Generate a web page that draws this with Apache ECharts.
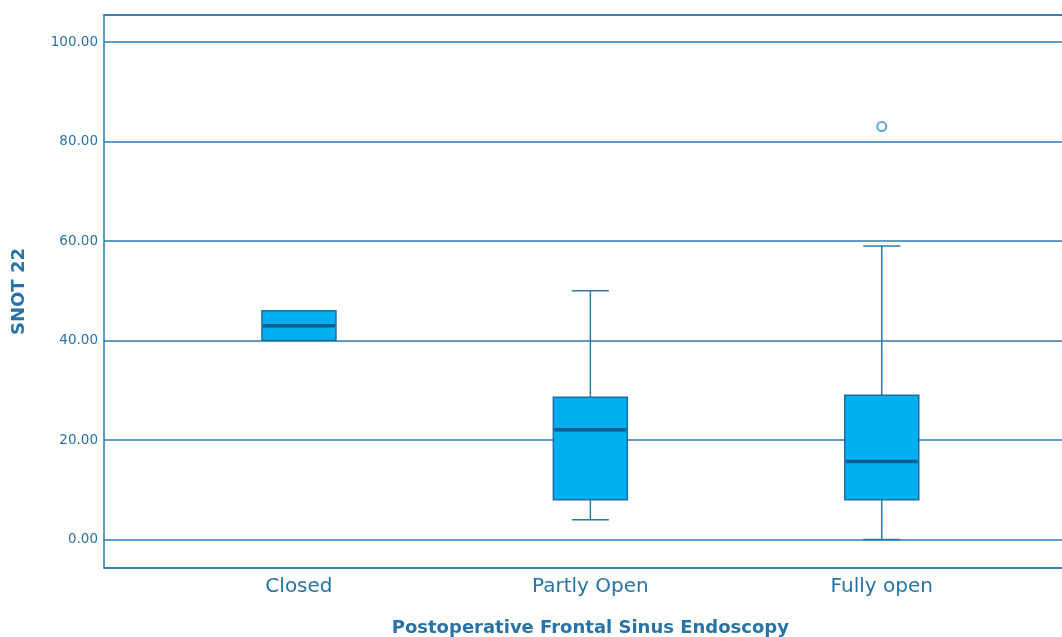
<!DOCTYPE html>
<html>
<head>
<meta charset="utf-8">
<title>SNOT 22 by Postoperative Frontal Sinus Endoscopy</title>
<script src="https://cdn.jsdelivr.net/npm/echarts@6/dist/echarts.min.js"></script>
<style>
  html, body { margin: 0; padding: 0; background: #ffffff; }
  #chart { width: 1062px; height: 637px; }
</style>
</head>
<body>
<div id="chart"></div>
<script>
// Groups along the horizontal axis
const categories = ['Closed', 'Partly Open', 'Fully open'];

// Five-number summaries per group: [min, Q1, median, Q3, max]
const whiskerMin = [40, 4, 0];
const quartile1  = [40, 8, 8];
const medians    = [43, 22.1, 15.7];
const quartile3  = [46, 28.6, 29];
const whiskerMax = [46, 50, 59];

// Outliers: [group index, value]
const outliers = [[2, 83]];

const AXIS_COLOR = '#2a7aae';
const TEXT_COLOR = '#2873a6';
const BOX_FILL = '#00b0f0';
const BOX_EDGE = '#1f6ea3';
const MEDIAN_COLOR = '#0c5d92';
const FONT = 'DejaVu Sans';

const boxData = categories.map((c, i) => [i, whiskerMin[i], quartile1[i], medians[i], quartile3[i], whiskerMax[i]]);

function renderBox(params, api) {
  const x = api.value(0);
  const band = api.size([1, 0])[0];
  const boxW = band * 0.254;
  const capW = boxW / 2;
  const pMin = api.coord([x, api.value(1)]);
  const pQ1 = api.coord([x, api.value(2)]);
  const pMed = api.coord([x, api.value(3)]);
  const pQ3 = api.coord([x, api.value(4)]);
  const pMax = api.coord([x, api.value(5)]);
  const cx = pMed[0];
  const lineStyle = { stroke: AXIS_COLOR, lineWidth: 1.5 };
  const children = [];
  if (pMax[1] < pQ3[1] - 0.5) {
    children.push({ type: 'line', shape: { x1: cx, y1: pQ3[1], x2: cx, y2: pMax[1] }, style: lineStyle });
    children.push({ type: 'line', shape: { x1: cx - capW / 2, y1: pMax[1], x2: cx + capW / 2, y2: pMax[1] }, style: lineStyle });
  }
  if (pMin[1] > pQ1[1] + 0.5) {
    children.push({ type: 'line', shape: { x1: cx, y1: pQ1[1], x2: cx, y2: pMin[1] }, style: lineStyle });
    children.push({ type: 'line', shape: { x1: cx - capW / 2, y1: pMin[1], x2: cx + capW / 2, y2: pMin[1] }, style: lineStyle });
  }
  children.push({
    type: 'rect',
    shape: { x: cx - boxW / 2, y: pQ3[1], width: boxW, height: pQ1[1] - pQ3[1] },
    style: { fill: BOX_FILL, stroke: BOX_EDGE, lineWidth: 1.5 }
  });
  children.push({
    type: 'line',
    shape: { x1: cx - boxW / 2 + 1, y1: pMed[1], x2: cx + boxW / 2 - 1, y2: pMed[1] },
    style: { stroke: MEDIAN_COLOR, lineWidth: 3.5 }
  });
  return { type: 'group', children: children };
}

const chart = echarts.init(document.getElementById('chart'), null, { renderer: 'canvas' });

const xCommon = {
  type: 'value',
  min: -0.669,
  max: 2.669,
  splitLine: { show: false },
  axisTick: { show: false },
  axisLine: { show: true, onZero: false, lineStyle: { color: AXIS_COLOR, width: 1.5 } }
};

chart.setOption({
  animation: false,
  backgroundColor: '#ffffff',
  grid: { left: 104, top: 15, width: 972.7, height: 553, containLabel: false, outerBoundsMode: 'none' },
  xAxis: [
    Object.assign({}, xCommon, {
      position: 'bottom',
      name: 'Postoperative Frontal Sinus Endoscopy',
      nameLocation: 'middle',
      nameGap: 51,
      nameTextStyle: { fontFamily: FONT, fontSize: 18, fontWeight: 'bold', color: TEXT_COLOR },
      axisLabel: {
        customValues: [0, 1, 2],
        formatter: v => categories[Math.round(v)] || '',
        fontFamily: FONT, fontSize: 20, color: TEXT_COLOR, margin: 9
      }
    }),
    Object.assign({}, xCommon, {
      position: 'top',
      axisLabel: { show: false }
    })
  ],
  yAxis: {
    type: 'value',
    min: -5.71,
    max: 105.43,
    splitNumber: 5,
    name: 'SNOT 22',
    nameLocation: 'middle',
    nameGap: 76,
    nameTextStyle: { fontFamily: FONT, fontSize: 18, fontWeight: 'bold', color: TEXT_COLOR },
    axisLine: { show: true, onZero: false, lineStyle: { color: AXIS_COLOR, width: 1.5 } },
    axisTick: { show: false },
    splitLine: { show: true, lineStyle: { color: AXIS_COLOR, width: 1.5 } },
    axisLabel: {
      showMinLabel: false,
      showMaxLabel: false,
      formatter: v => v.toFixed(2),
      fontFamily: FONT, fontSize: 13.5, color: TEXT_COLOR, margin: 6
    }
  },
  series: [
    {
      type: 'custom',
      name: 'SNOT 22',
      renderItem: renderBox,
      encode: { x: 0, y: [1, 2, 3, 4, 5] },
      data: boxData,
      clip: false
    },
    {
      type: 'scatter',
      data: outliers,
      symbol: 'circle',
      symbolSize: 9,
      itemStyle: { color: '#ffffff', borderColor: '#3b8fc4', borderWidth: 2 }
    }
  ]
});
</script>
</body>
</html>
